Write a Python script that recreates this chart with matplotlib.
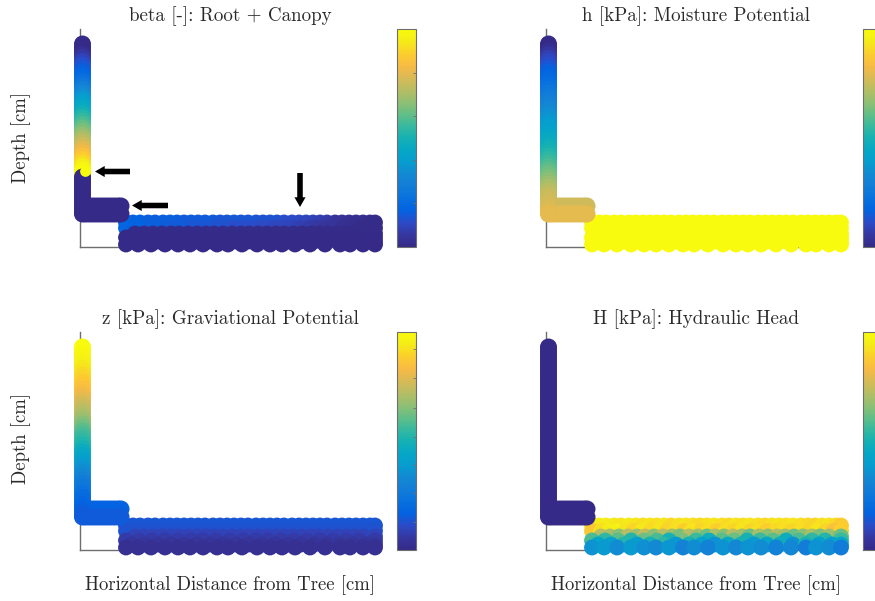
import matplotlib
matplotlib.use("Agg")
import matplotlib.pyplot as plt
from matplotlib.colors import LinearSegmentedColormap
from matplotlib.cm import ScalarMappable

plt.rcParams['font.family'] = ['cmr10', 'DejaVu Serif']

# parula, sampled from the colorbars
parula_colors = [
    (0.2081, 0.1663, 0.5292), (0.2123, 0.2138, 0.6270), (0.1707, 0.2919, 0.7792),
    (0.0117, 0.3875, 0.8820), (0.0329, 0.4430, 0.8720), (0.0723, 0.4887, 0.8467),
    (0.0749, 0.5375, 0.8263), (0.0265, 0.6137, 0.8135), (0.0228, 0.6535, 0.7768),
    (0.0843, 0.6928, 0.7062), (0.2178, 0.7250, 0.6193), (0.3953, 0.7459, 0.5244),
    (0.5709, 0.7485, 0.4494), (0.7184, 0.7411, 0.3905), (0.8507, 0.7299, 0.3360),
    (0.9739, 0.7314, 0.2666), (0.9880, 0.8066, 0.1794), (0.9598, 0.9218, 0.0948),
    (0.9763, 0.9831, 0.0538),
]
parula = LinearSegmentedColormap.from_list("parula", parula_colors)

titles = ["beta [-]: Root + Canopy", "h [kPa]: Moisture Potential",
          "z [kPa]: Graviational Potential", "H [kPa]: Hydraulic Head"]
xlabel = "Horizontal Distance from Tree [cm]"
ylabel = "Depth [cm]"

# stem of the tree
stem_x = 2.5
stem_h = [203, 199.5, 196, 192.5, 189, 185.5, 182, 178.5, 175, 171.5,
          168, 164.5, 161, 157.5, 154, 150.5, 147, 143.5, 140, 136.5,
          133, 129.5, 126, 122.5, 119, 115.5, 112, 108.5, 105, 101.5,
          98, 94.5, 91, 87.5, 84, 80.5, 77, 73.5, 70, 66.5,
          63, 59.5, 56, 52.5, 49, 45.5, 42, 38.5, 35, 33]
beta_stem = [0, 0, 0, .03, .06, .09, .12, .14, .16, .18,
             .20, .23, .26, .29, .32, .35, .38, .41, .44, .46,
             .49, .52, .55, .58, .61, .64, .67, .70, .73, .76,
             .79, .82, .85, .88, .91, .95, .98, 1, 0, 0,
             0, 0, 0, 0, 0, 0, 0, 0, 0, 0]
h_stem = [0, 0, .02, .05, .08, .10, .12, .14, .16, .17,
          .19, .20, .22, .23, .25, .26, .28, .29, .31, .32,
          .34, .35, .37, .38, .40, .41, .43, .44, .46, .47,
          .49, .50, .52, .54, .56, .58, .60, .62, .64, .66,
          .68, .70, .72, .74, .75, .76, .77, .78, .79, .80]
z_stem = [1, 1, .99, .98, .97, .96, .94, .93, .91, .90,
          .88, .87, .85, .84, .82, .80, .78, .76, .74, .72,
          .70, .68, .65, .63, .60, .58, .56, .54, .52, .50,
          .47, .45, .43, .41, .38, .36, .34, .32, .30, .28,
          .26, .25, .23, .21, .20, .18, .17, .16, .15, .15]
H_stem = [0] * 50
beta_tip = (5, 76.5, 1)

# branch
branch_x = [6, 10, 14, 18, 22, 26, 30, 34, 38, 41]
branch_h1 = [41] * 10
branch_h2 = [33] * 10
branch_vals = [(0, 0), (.76, .80), (.17, .15), (0, 0)]

# soil rows, top to bottom
soil_h = [24.5, 19, 13.5, 9.5, 5.5, 2.5]
soil_x1 = [46, 53, 60, 68, 75, 83, 90, 97, 104, 111, 118, 125, 133, 140, 147, 154, 161, 168,
           176, 183, 190, 197, 204, 212, 219, 226, 233, 240, 247, 255, 262, 269, 276, 283, 290, 295]
soil_x2 = [46, 55, 63, 71, 80, 88, 96, 105, 113, 121, 130, 138, 146, 155, 163, 171,
           180, 188, 196, 205, 213, 221, 230, 238, 246, 255, 263, 271, 280, 288, 295]
soil_x3 = [55, 64, 73, 82, 91, 99, 108, 117, 126, 134, 143, 152, 161, 169,
           178, 187, 196, 204, 213, 222, 231, 239, 248, 257, 266, 274, 283, 295]
soil_x4 = [46, 59, 72, 85, 98, 111, 123, 136, 150, 163, 176, 188, 201, 214, 227, 240, 253, 266, 279, 295]
soil_x5 = [52, 65, 78, 91, 104, 117, 130, 143, 156, 169, 182, 195, 208, 221, 234, 247, 260, 273, 286, 295]
soil_x6 = [46, 58, 71, 85, 98, 110, 123, 137, 148, 162, 177, 190, 202, 215, 230, 245, 260, 270, 283, 295]
soil_xs = [soil_x1, soil_x2, soil_x3, soil_x4, soil_x5, soil_x6]

beta_soil1 = [.17, .17, .17, .16, .16, .16, .16, .16, .15, .15, .15, .15, .15, .14, .14, .14, .14, .14,
              .14, .13, .13, .13, .12, .11, .11, .10, .09, .08, .07, .05, .04, .03, .02, .02, .01, .01]
beta_soil2 = [.18, .17, .17, .16, .16, .15, .15, .15, .14, .14, .14, .13, .13, .12, .12, .12,
              .11, .11, .10, .10, .09, .08, .07, .06, .05, .04, .03, .02, .01, .01, .01]
H_soil1 = [.93, .95, .95, .94, .93, .94, .93, .92, .93, .92, .93, .91, .92, .93, .92, .91, .92, .93,
           .92, .91, .93, .92, .93, .92, .91, .92, .93, .92, .93, .92, .91, .90, .92, .93, .91, .88]
H_soil2 = [.87, .92, .95, .96, .93, .90, .94, .91, .93, .90, .92, .89, .93, .90, .92, .89,
           .92, .90, .93, .90, .92, .89, .91, .92, .90, .92, .90, .93, .90, .85, .89]
H_soil3 = [.72, .70, .66, .72, .68, .74, .66, .72, .68, .64, .72, .68, .62, .70,
           .66, .72, .68, .62, .70, .66, .72, .68, .62, .66, .70, .64, .68, .62]
H_soil4 = [.58, .54, .60, .52, .62, .58, .50, .64, .56, .48, .60, .62, .50, .56, .60, .48, .58, .54, .52, .56]
H_soil5 = [.44, .42, .52, .40, .50, .54, .38, .50, .42, .36, .46, .50, .38, .44, .48, .36, .50, .42, .40, .44]
H_soil6 = [.36, .38, .34, .38, .35, .33, .37, .30, .34, .30, .36, .32, .36, .34, .30, .32, .28, .36, .34, .27]

soil_vals = [
    [beta_soil1, beta_soil2, [.01] * 28, [0] * 20, [0] * 20, [0] * 20],
    [[1] * 36, [1] * 31, [1] * 28, [1] * 20, [1] * 20, [1] * 20],
    [[.14] * 36, [.13] * 31, [.09] * 28, [.07] * 20, [.05] * 20, [.03] * 20],
    [H_soil1, H_soil2, H_soil3, H_soil4, H_soil5, H_soil6],
]
stem_vals = [beta_stem, h_stem, z_stem, H_stem]

cbar_ticks = [[.2, .4, .6, .8], [.2, .4, .6, .8],
              [.13, .26, .39, .52, .65, .79, .92], [.13, .26, .39, .52, .65, .79, .92]]

# panel corners in pixels: left, top
panel_px = [(80, 29), (546, 29), (80, 332), (546, 332)]
ylabel_y = [109.5, None, 112, None]
W, H = 875, 601
GRAY = "#6e6e6e"
TEXT = "#2a2a2a"

fig = plt.figure(figsize=(W / 100, H / 100), dpi=100)

for i in range(4):
    left, top = panel_px[i]
    ax = fig.add_axes([left / W, (H - top - 218) / H, 304 / W, 218 / H])
    ax.set_xlim(0, 304)
    ax.set_ylim(0, 218)
    for s in ["top", "right"]:
        ax.spines[s].set_visible(False)
    for s in ["left", "bottom"]:
        ax.spines[s].set_color(GRAY)
        ax.spines[s].set_linewidth(1)
    ax.spines["bottom"].set_bounds(0, 290)
    ax.set_xticks([])
    ax.set_yticks([])

    kw = dict(cmap=parula, vmin=0, vmax=1, linewidths=0, clip_on=False, zorder=3)
    for x, h, v in zip(soil_xs, soil_h, soil_vals[i]):
        ax.scatter(x, [h] * len(x), c=v, s=130, **kw)
    ax.scatter(branch_x, branch_h1, c=[branch_vals[i][0]] * 10, s=150, **kw)
    ax.scatter(branch_x, branch_h2, c=[branch_vals[i][1]] * 10, s=150, **kw)
    ax.scatter([stem_x] * len(stem_h), stem_h, c=stem_vals[i], s=150, **kw)

    ax.set_title(titles[i], fontsize=13.7, pad=6, color=TEXT, x=0.495)
    if i in (0, 2):
        ax.text(-59, ylabel_y[i], ylabel, rotation=90, fontsize=13.5,
                ha="center", va="center", color=TEXT)
    if i in (2, 3):
        ax.set_xlabel(xlabel, fontsize=13.5, labelpad=18, color=TEXT, x=0.495)

    if i == 0:
        ax.scatter([beta_tip[0]], [beta_tip[1]], c=[beta_tip[2]], s=60, **kw)
        style = dict(arrowstyle="simple,tail_width=0.4,head_width=0.8,head_length=0.7",
                     mutation_scale=10, color="k", shrinkA=0, shrinkB=0, lw=0)
        for xy, xytext in [((15, 75.5), (50, 75.5)), ((52, 41.5), (88, 41.5)), ((220, 40), (220, 74))]:
            ax.annotate("", xy=xy, xytext=xytext, arrowprops=style, zorder=5)

    cax = fig.add_axes([(left + 317) / W, (H - top - 218) / H, 19 / W, 218 / H])
    cb = fig.colorbar(ScalarMappable(cmap=parula, norm=plt.Normalize(0, 1)), cax=cax)
    cb.set_ticks(cbar_ticks[i])
    cb.set_ticklabels([])
    cb.ax.tick_params(direction="in", length=2, width=0.6, color=GRAY)
    cb.outline.set_edgecolor(GRAY)
    cb.outline.set_linewidth(0.8)

fig.savefig("out.png", dpi=100)
